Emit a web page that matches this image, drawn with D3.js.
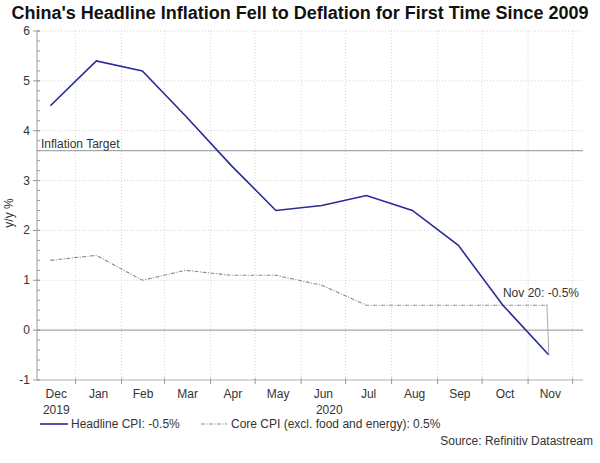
<!DOCTYPE html>
<html>
<head>
<meta charset="utf-8">
<script src="https://cdn.jsdelivr.net/npm/d3@7"></script>
<style>
  body { margin: 0; background: #fff; }
  svg { font-family: 'Liberation Sans', Arial, sans-serif; }
</style>
</head>
<body>
<svg id="chart" width="600" height="463"></svg>
<script>
// monthly readings, plotted mid-month
const months = ['2019-12-15', '2020-01-15', '2020-02-15', '2020-03-15', '2020-04-15', '2020-05-15',
  '2020-06-15', '2020-07-15', '2020-08-15', '2020-09-15', '2020-10-15', '2020-11-15']
const headline = [4.5, 5.4, 5.2, 4.3, 3.3, 2.4, 2.5, 2.7, 2.4, 1.7, 0.5, -0.5]
const core = [1.4, 1.5, 1.0, 1.2, 1.1, 1.1, 0.9, 0.5, 0.5, 0.5, 0.5, 0.5]
const yTicks = [-1, 0, 1, 2, 3, 4, 5, 6]
const inflationTarget = 3.6
const monthLabels = ['Dec', 'Jan', 'Feb', 'Mar', 'Apr', 'May', 'Jun', 'Jul', 'Aug', 'Sep', 'Oct', 'Nov']

const parse = d3.utcParse('%Y-%m-%d')
const svg = d3.select('#chart')
const plotLeft = 37, plotRight = 583, plotTop = 31, plotBottom = 380

const xScale = d3.scaleUtc()
  .domain([parse('2019-12-06'), parse('2020-12-08')])
  .range([plotLeft, plotRight])
const yScale = d3.scaleLinear().domain([-1, 6]).range([plotBottom, plotTop])

// title
svg.append('text')
  .attr('x', 300).attr('y', 19)
  .attr('text-anchor', 'middle')
  .attr('font-size', 18).attr('font-weight', 'bold').attr('fill', '#111')
  .text("China's Headline Inflation Fell to Deflation for First Time Since 2009")

// month boundaries
const bounds = d3.utcMonth.range(parse('2020-01-01'), parse('2020-12-02'))

// grid
svg.append('g').selectAll('line').data(yTicks.filter(d => d !== 0 && d !== -1)).join('line')
  .attr('x1', plotLeft).attr('x2', plotRight)
  .attr('y1', d => yScale(d)).attr('y2', d => yScale(d))
  .attr('stroke', '#d4d4d4').attr('stroke-dasharray', '1,2')
svg.append('g').selectAll('line').data(bounds).join('line')
  .attr('x1', d => xScale(d)).attr('x2', d => xScale(d))
  .attr('y1', plotTop).attr('y2', plotBottom)
  .attr('stroke', '#d4d4d4').attr('stroke-dasharray', '1,2')

// zero and target lines
svg.append('line')
  .attr('x1', plotLeft).attr('x2', plotRight)
  .attr('y1', yScale(0)).attr('y2', yScale(0))
  .attr('stroke', '#a8a8a8').attr('stroke-width', 1.2)
svg.append('line')
  .attr('x1', plotLeft).attr('x2', plotRight)
  .attr('y1', yScale(inflationTarget)).attr('y2', yScale(inflationTarget))
  .attr('stroke', '#a8a8a8').attr('stroke-width', 1.2)
svg.append('text')
  .attr('x', plotLeft + 4).attr('y', yScale(inflationTarget) - 3)
  .attr('font-size', 12).attr('fill', '#333')
  .text('Inflation Target')

// y axis
const yAxis = svg.append('g').attr('transform', `translate(${plotLeft},0)`)
yAxis.append('line').attr('y1', plotTop).attr('y2', plotBottom).attr('stroke', '#999')
yAxis.selectAll('.minor').data(d3.range(-1, 6.001, 0.2)).join('line')
  .attr('x1', 0).attr('x2', 3)
  .attr('y1', d => yScale(d)).attr('y2', d => yScale(d))
  .attr('stroke', '#999')
yAxis.selectAll('.major').data(yTicks).join('line')
  .attr('x1', -4).attr('x2', 3)
  .attr('y1', d => yScale(d)).attr('y2', d => yScale(d))
  .attr('stroke', '#999')
yAxis.selectAll('text').data(yTicks).join('text')
  .attr('x', -7).attr('y', d => yScale(d) + 4)
  .attr('text-anchor', 'end').attr('font-size', 12).attr('fill', '#333')
  .text(d => d)
svg.append('text')
  .attr('transform', `translate(13,${yScale(2.35)}) rotate(-90)`)
  .attr('text-anchor', 'middle').attr('font-size', 12).attr('fill', '#333')
  .text('y/y %')

// x axis
svg.append('line')
  .attr('x1', plotLeft).attr('x2', plotRight).attr('y1', plotBottom).attr('y2', plotBottom)
  .attr('stroke', '#b0b0b0')
svg.append('g').selectAll('line').data(bounds).join('line')
  .attr('x1', d => xScale(d)).attr('x2', d => xScale(d))
  .attr('y1', plotBottom - 2).attr('y2', plotBottom + 4)
  .attr('stroke', '#999')
const bandEdges = [xScale.domain()[0], ...bounds]
svg.append('g').selectAll('text').data(monthLabels).join('text')
  .attr('x', (d, i) => (Math.max(plotLeft, xScale(bandEdges[i])) + xScale(bandEdges[i + 1])) / 2)
  .attr('y', 398)
  .attr('text-anchor', 'middle').attr('font-size', 12).attr('fill', '#333')
  .text(d => d)
svg.append('text')
  .attr('x', (plotLeft + xScale(bounds[0])) / 2).attr('y', 414)
  .attr('text-anchor', 'middle').attr('font-size', 12).attr('fill', '#333')
  .text('2019')
svg.append('text')
  .attr('x', (xScale(bounds[0]) + plotRight) / 2).attr('y', 414)
  .attr('text-anchor', 'middle').attr('font-size', 12).attr('fill', '#333')
  .text('2020')

// series
const line = d3.line()
  .x(d => xScale(d.x))
  .y(d => yScale(d.y))
const dates = months.map(parse)

svg.append('path')
  .datum(core.map((v, i) => ({ x: dates[i], y: v })))
  .attr('d', line).attr('fill', 'none')
  .attr('stroke', '#8a8a8a').attr('stroke-width', 1.1)
  .attr('stroke-dasharray', '4,1.5,1,1.5')

svg.append('path')
  .datum(headline.map((v, i) => ({ x: dates[i], y: v })))
  .attr('d', line).attr('fill', 'none')
  .attr('stroke', '#2a2a96').attr('stroke-width', 1.6)

// callout for the last reading
const lastX = xScale(dates[dates.length - 1])
const lastY = yScale(headline[headline.length - 1])
svg.append('line')
  .attr('x1', lastX).attr('y1', lastY)
  .attr('x2', lastX - 2).attr('y2', lastY - 51)
  .attr('stroke', '#aaa')
svg.append('text')
  .attr('x', 579).attr('y', 297)
  .attr('text-anchor', 'end').attr('font-size', 12).attr('fill', '#333')
  .text('Nov 20: -0.5%')

// legend
const legend = svg.append('g').attr('transform', 'translate(0,424)')
legend.append('line').attr('x1', 40).attr('x2', 68).attr('y1', 0).attr('y2', 0)
  .attr('stroke', '#2a2a96').attr('stroke-width', 1.6)
legend.append('text').attr('x', 71).attr('y', 4)
  .attr('font-size', 12).attr('fill', '#333').text('Headline CPI: -0.5%')
legend.append('line').attr('x1', 201).attr('x2', 227).attr('y1', 0).attr('y2', 0)
  .attr('stroke', '#8a8a8a').attr('stroke-width', 1.1)
  .attr('stroke-dasharray', '4,1.5,1,1.5')
legend.append('text').attr('x', 231).attr('y', 4)
  .attr('font-size', 12).attr('fill', '#333').text('Core CPI (excl. food and energy): 0.5%')

svg.append('text')
  .attr('x', 593).attr('y', 445)
  .attr('text-anchor', 'end').attr('font-size', 12).attr('fill', '#333')
  .text('Source: Refinitiv Datastream')
</script>
</body>
</html>
